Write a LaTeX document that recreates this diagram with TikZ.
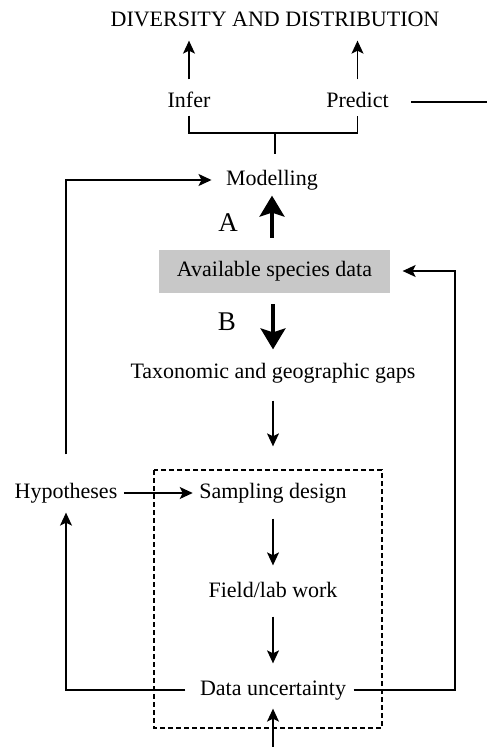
\documentclass[tikz,border=0pt]{standalone}
\usepackage{fontspec}
\setmainfont{Liberation Serif}
\usepackage{tikz}
\usetikzlibrary{arrows.meta}
\definecolor{boxgray}{RGB}{200,200,200}

\begin{document}
\begin{tikzpicture}[x=1pt, y=-1pt, line width=1.3pt,
  every node/.style={font=\fontsize{22}{26}\selectfont, text height=15pt, text depth=5pt, inner sep=3pt},
  flow/.style={-{Stealth[length=13pt, width=12pt, inset=3pt]}},
  bigflow/.style={line width=3.2pt, -{Stealth[length=21pt, width=25pt, inset=4pt]}},
  letter/.style={font=\fontsize{27}{30}\selectfont}]
  \useasboundingbox (0,0) rectangle (487,747);
  \node (title) at (275,21) {DIVERSITY AND DISTRIBUTION};
  \node (infer) at (189,102) {Infer};
  \node (predict) at (357.5,102) {Predict};
  \node (model) at (272,180) {Modelling};
  \node[fill=boxgray, minimum width=231pt, minimum height=43pt] (avail) at (274.5,271) {Available species data};
  \node[letter] (lblA) at (228,226) {A};
  \node[letter] (lblB) at (227,325) {B};
  \node (taxo) at (273,373) {Taxonomic and geographic gaps};
  \node (hypo) at (66,493) {Hypotheses};
  \node (samp) at (273,493) {Sampling design};
  \node (field) at (273,592) {Field/lab work};
  \node (uncert) at (273,690) {Data uncertainty};
  \coordinate (fork) at (275,133);
  \coordinate (predout) at (487,102);
  \coordinate (rcorner) at (455,690);
  \coordinate (bottom) at (273,747);
  \draw[flow, shorten <=9pt, shorten >=6pt] (infer.north) -- (infer.north |- title.south);
  \draw[flow, shorten <=9pt, shorten >=6pt] (predict.north) -- (predict.north |- title.south);
  \draw[shorten <=19pt] (predict.east) -- (predout);
  \draw (infer.south) -- (infer.south |- fork) -- (predict.south |- fork) -- (predict.south);
  \draw[shorten >=12pt] (fork) -- (fork |- model.north);
  \draw[bigflow, shorten <=11pt, shorten >=2pt] (avail.north -| model) -- (model.south);
  \draw[bigflow, shorten <=11pt, shorten >=10pt] (avail.south -| taxo) -- (taxo.north);
  \draw[flow, shorten <=14pt, shorten >=33pt] (taxo.south) -- (samp.north);
  \draw[flow, shorten <=25pt, shorten >=11pt] (hypo.north) |- (model.west);
  \draw[flow, shorten <=3pt, shorten >=3pt] (hypo.east) -- (samp.west);
  \draw[flow, shorten <=12pt, shorten >=13pt] (samp.south) -- (field.north);
  \draw[flow, shorten <=11pt, shorten >=13pt] (field.south) -- (uncert.north);
  \draw[flow, shorten >=5pt] (bottom) -- (uncert.south);
  \draw[flow, shorten <=11pt, shorten >=6pt] (uncert.west) -| (hypo.south);
  \draw[flow, shorten <=4pt, shorten >=12pt] (uncert.east) -- (rcorner) |- (avail.east);
  \draw[dash pattern=on 5pt off 3pt] (154,470) rectangle (382,728);
\end{tikzpicture}
\end{document}
